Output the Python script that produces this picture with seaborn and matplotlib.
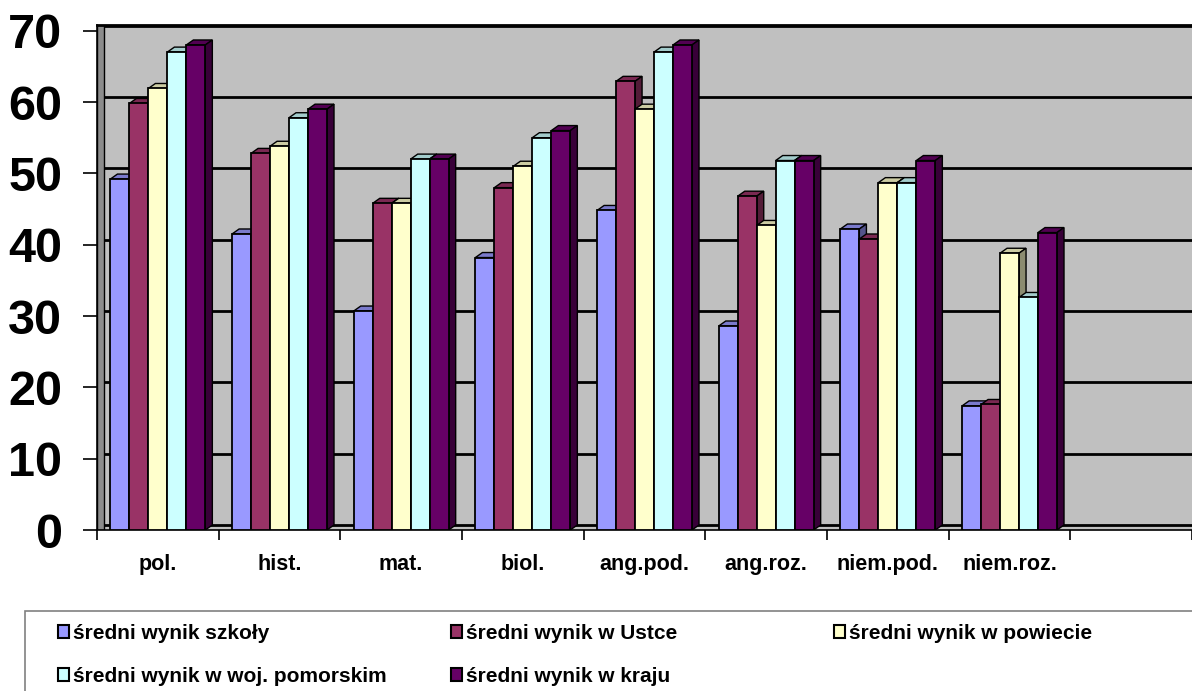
import numpy as np
import pandas as pd
import seaborn as sns
import matplotlib.pyplot as plt
from matplotlib.patches import Polygon, Rectangle
from matplotlib.colors import to_rgb
from matplotlib.transforms import ScaledTranslation

# dane z wykresu
przedmioty = ['pol.', 'hist.', 'mat.', 'biol.', 'ang.pod.', 'ang.roz.', 'niem.pod.', 'niem.roz.']
serie = ['średni wynik szkoły', 'średni wynik w Ustce', 'średni wynik w powiecie',
         'średni wynik w woj. pomorskim', 'średni wynik w kraju']
wynik_szkoly = [49.2, 41.5, 30.7, 38.2, 44.8, 28.6, 42.2, 17.4]
wynik_ustka = [59.8, 52.8, 45.8, 48.0, 62.9, 46.8, 40.8, 17.6]
wynik_powiat = [61.9, 53.8, 45.8, 51.0, 59.0, 42.7, 48.7, 38.8]
wynik_woj = [67.0, 57.8, 52.0, 55.0, 67.0, 51.8, 48.7, 32.6]
wynik_kraj = [68.0, 59.0, 52.0, 56.0, 68.0, 51.8, 51.8, 41.7]
kolory = ['#9999FF', '#993366', '#FFFFCC', '#CCFFFF', '#660066']

df = pd.DataFrame({
    'przedmiot': przedmioty * 5,
    'seria': np.repeat(serie, len(przedmioty)),
    'wynik': wynik_szkoly + wynik_ustka + wynik_powiat + wynik_woj + wynik_kraj,
})

plt.rcParams['font.family'] = ['Liberation Sans', 'DejaVu Sans']
plt.rcParams['font.weight'] = 'bold'

fig = plt.figure(figsize=(11.92, 6.91), dpi=100)
ax = fig.add_axes([97 / 1192, 161 / 691, 1095 / 1192, 505 / 691])
ax.set_facecolor('#C0C0C0')

sns.barplot(data=df, x='przedmiot', y='wynik', hue='seria', order=przedmioty,
            hue_order=serie, palette=kolory, saturation=1, width=0.78,
            edgecolor='black', linewidth=1.3, ax=ax)

# efekt 3D - boki i gora slupkow
dx, dy = 0.058, 0.7
for i, cont in enumerate(ax.containers):
    for bar in cont:
        x, y = bar.get_x(), bar.get_y()
        w, h = bar.get_width(), bar.get_height()
        c = np.array(to_rgb(bar.get_facecolor()))
        bar.set_zorder(3 + 2 * i)
        top = Polygon([(x, y + h), (x + dx, y + h + dy), (x + w + dx, y + h + dy), (x + w, y + h)],
                      closed=True, facecolor=c * 0.8, edgecolor='black', lw=1.0, zorder=2 + 2 * i)
        side = Polygon([(x + w, y), (x + w + dx, y + dy), (x + w + dx, y + h + dy), (x + w, y + h)],
                       closed=True, facecolor=c * 0.55, edgecolor='black', lw=1.0, zorder=2 + 2 * i)
        ax.add_patch(top)
        ax.add_patch(side)

# lewa sciana wykresu (ciemniejszy pasek)
ax.add_patch(Rectangle((0, 0), 7 / 1095, 1, transform=ax.transAxes, facecolor='#8C8C8C',
                       edgecolor='black', lw=1.0, zorder=1.5))

ax.set_xlim(-0.5, 8.5)
ax.set_ylim(0, 70.8)
ax.set_yticks(range(0, 80, 10))
ax.tick_params(axis='y', labelsize=35, length=10, width=1.2, pad=15)
ax.set_xticks(range(len(przedmioty)))
ax.set_xticklabels(przedmioty, fontsize=15.5)
ax.set_xticks(np.arange(-0.5, 9, 1), minor=True)
ax.tick_params(axis='x', which='major', length=0, pad=17)
ax.tick_params(axis='x', which='minor', length=7, width=1.2, direction='out')
ax.set_xlabel('')
ax.set_ylabel('')

ax.yaxis.grid(True, color='black', lw=2)
for ln in ax.get_ygridlines():
    ln.set_transform(ln.get_transform() + ScaledTranslation(6 / 100, 5 / 100, fig.dpi_scale_trans))
ax.set_axisbelow(True)
ax.spines['right'].set_visible(False)
ax.spines['top'].set_linewidth(2)
ax.spines['left'].set_linewidth(1.2)
ax.spines['bottom'].set_linewidth(1.2)

# legenda - trzy kolumny i ramka
handles, labels = ax.get_legend_handles_labels()
ax.get_legend().remove()
for h in handles:
    h.set_linewidth(1.5)
kol_x = [58 / 1192, 451 / 1192, 834 / 1192]
kolumny = [[0, 3], [1, 4], [2]]
for kx, idx in zip(kol_x, kolumny):
    fig.legend([handles[j] for j in idx], [labels[j] for j in idx], loc='upper left',
               bbox_to_anchor=(kx, 67 / 691), frameon=False, fontsize=15,
               handlelength=0.55, handleheight=0.55, handletextpad=0.15,
               labelspacing=1.15, borderpad=0, borderaxespad=0)
fig.add_artist(Rectangle((25 / 1192, -0.02), 1.0, 80 / 691 + 0.02, transform=fig.transFigure,
                         fill=False, edgecolor='#808080', lw=1.2))

fig.savefig('out.png', dpi=100)
